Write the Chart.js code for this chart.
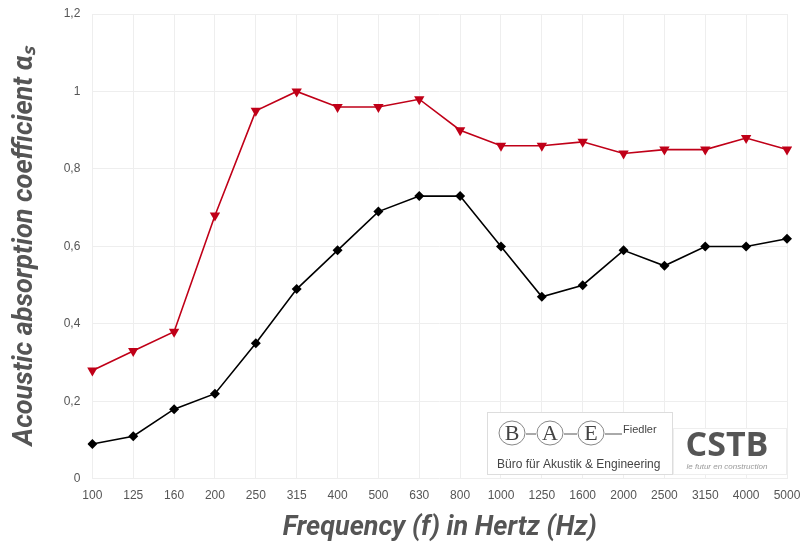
<!DOCTYPE html>
<html>
<head>
<meta charset="utf-8">
<script src="https://cdn.jsdelivr.net/npm/chart.js@4"></script>
<style>
  html, body { margin: 0; padding: 0; background: #fff; }
  #wrap { width: 802px; height: 543px; }
</style>
</head>
<body>
<div id="wrap"><canvas id="absorption_canvas"></canvas></div>
<script>
var frequencies = ['100', '125', '160', '200', '250', '315', '400', '500', '630', '800',
                   '1000', '1250', '1600', '2000', '2500', '3150', '4000', '5000'];
var redSeries = [0.28, 0.33, 0.38, 0.68, 0.95, 1.00, 0.96, 0.96, 0.98, 0.90,
                 0.86, 0.86, 0.87, 0.84, 0.85, 0.85, 0.88, 0.85];
var blackSeries = [0.09, 0.11, 0.18, 0.22, 0.35, 0.49, 0.59, 0.69, 0.73, 0.73,
                   0.60, 0.47, 0.50, 0.59, 0.55, 0.60, 0.60, 0.62];
var yTicks = [0, 0.2, 0.4, 0.6, 0.8, 1, 1.2];

// logos drawn in the lower right corner
var logoPlugin = {
  id: 'logos',
  afterDraw: function(chart) {
    var c = chart.ctx;
    c.save();
    // BAE box
    c.fillStyle = '#fff';
    c.fillRect(487, 412, 186, 63);
    c.strokeStyle = '#ddd';
    c.lineWidth = 1;
    c.strokeRect(487.5, 412.5, 185, 62);
    // circles
    c.strokeStyle = '#888';
    var cx = [512, 550, 591];
    var letters = ['B', 'A', 'E'];
    c.font = '22px "Liberation Serif"';
    c.textAlign = 'center';
    c.textBaseline = 'middle';
    for (var i = 0; i < 3; i++) {
      c.beginPath();
      c.ellipse(cx[i], 433, 13, 12, 0, 0, Math.PI * 2);
      c.stroke();
      c.fillStyle = '#444';
      c.fillText(letters[i], cx[i], 434);
    }
    c.strokeStyle = '#555';
    c.beginPath();
    c.moveTo(526, 434); c.lineTo(536, 434);
    c.moveTo(564, 434); c.lineTo(577, 434);
    c.moveTo(605, 434); c.lineTo(622, 434);
    c.stroke();
    c.font = '11px "Liberation Sans"';
    c.textAlign = 'left';
    c.fillStyle = '#444';
    c.fillText('Fiedler', 623, 430);
    c.font = '12px "Liberation Sans"';
    c.fillText('Büro für Akustik & Engineering', 497, 465);
    // CSTB box
    c.fillStyle = '#fff';
    c.fillRect(673, 428, 114, 47);
    c.strokeStyle = '#eee';
    c.strokeRect(673.5, 428.5, 113, 46);
    c.font = 'bold 34px "Open Sans"';
    c.fillStyle = '#555';
    c.textAlign = 'center';
    c.fillText('CSTB', 727, 446);
    c.font = 'italic 8px "Liberation Sans"';
    c.fillStyle = '#999';
    c.fillText('le futur en construction', 727, 467);
    c.restore();
  }
};

var titleFont = { family: 'Roboto', size: 27, weight: 'bold', style: 'italic', lineHeight: 1.1 };

new Chart(document.getElementById('absorption_canvas'), {
  type: 'line',
  data: {
    labels: frequencies,
    datasets: [{
      label: 'red',
      data: redSeries,
      borderColor: '#c00018',
      backgroundColor: '#c00018',
      borderWidth: 1.6,
      pointStyle: 'triangle',
      rotation: 180,
      pointRadius: 6,
      pointBorderWidth: 0,
      pointBackgroundColor: '#c00018',
      tension: 0
    }, {
      label: 'black',
      data: blackSeries,
      borderColor: '#000',
      backgroundColor: '#000',
      borderWidth: 1.6,
      pointStyle: 'rectRot',
      pointRadius: 5,
      pointBorderWidth: 0,
      pointBackgroundColor: '#000',
      tension: 0
    }]
  },
  options: {
    responsive: true,
    maintainAspectRatio: false,
    animation: false,
    layout: { padding: { top: 0, right: 0, bottom: 0, left: 10 } },
    plugins: {
      legend: { display: false },
      tooltip: { enabled: false }
    },
    scales: {
      x: {
        offset: false,
        afterFit: function(s) { s.paddingRight = 15; },
        grid: { color: '#eeeeee', drawTicks: false },
        border: { display: false },
        ticks: { color: '#555', font: { family: 'Liberation Sans', size: 12 }, padding: 10, maxRotation: 0, autoSkip: false },
        title: { display: true, text: 'Frequency (f) in Hertz (Hz)', color: '#555', font: titleFont, padding: { top: 0, bottom: 0 } }
      },
      y: {
        min: 0,
        max: 1.2,
        afterFit: function(s) { s.paddingTop = 14; },
        afterBuildTicks: function(axis) {
          axis.ticks = yTicks.map(function(v) { return { value: v }; });
        },
        grid: { color: '#eeeeee', drawTicks: false },
        border: { display: false },
        ticks: {
          color: '#555',
          font: { family: 'Liberation Sans', size: 12 },
          padding: 12,
          callback: function(v) { return String(Math.round(v * 10) / 10).replace('.', ','); }
        },
        title: { display: true, text: 'Acoustic absorption coefficient αₛ', color: '#555', font: titleFont, padding: { top: 0, bottom: 12 } }
      }
    }
  },
  plugins: [logoPlugin]
});
</script>
</body>
</html>
